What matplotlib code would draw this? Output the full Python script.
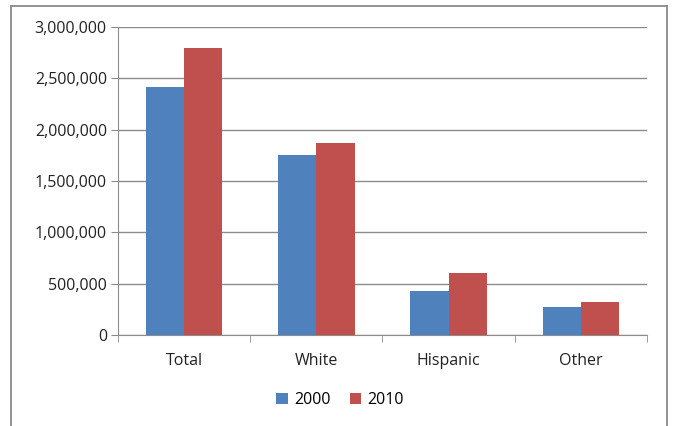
import numpy as np
import matplotlib
matplotlib.use('Agg')
import matplotlib.pyplot as plt
from matplotlib.ticker import FuncFormatter, MultipleLocator
from matplotlib.lines import Line2D

categories = ['Total', 'White', 'Hispanic', 'Other']
pop_2000 = [2415000, 1750000, 428000, 276000]
pop_2010 = [2792000, 1873000, 607000, 321000]

plt.rcParams['font.family'] = ['Open Sans', 'DejaVu Sans']

fig = plt.figure(figsize=(6.73, 4.26), dpi=100)
ax = fig.add_axes([118 / 673, 1 - 335 / 426, (647 - 118) / 673, (335 - 27) / 426])

x = np.arange(len(categories))
w = 0.29
ax.bar(x - w / 2, pop_2000, w, color='#4F81BD', label='2000', zorder=3)
ax.bar(x + w / 2, pop_2010, w, color='#C0504D', label='2010', zorder=3)

ax.set_xlim(-0.5, len(categories) - 0.5)
ax.set_ylim(0, 3000000)
ax.yaxis.set_major_locator(MultipleLocator(500000))
ax.yaxis.set_major_formatter(FuncFormatter(lambda v, p: f'{int(v):,}'))
ax.grid(axis='y', color='#8c8c8c', linewidth=1, zorder=0)

ax.set_xticks(x)
ax.set_xticklabels(categories)
ax.set_xticks(np.arange(-0.5, len(categories)), minor=True)
ax.tick_params(axis='x', which='major', length=0, pad=13, labelsize=11.5, colors='#222222')
ax.tick_params(axis='x', which='minor', length=5, color='#8c8c8c')
ax.tick_params(axis='y', length=5, color='#8c8c8c', labelsize=11.5, colors='#222222', pad=3)

for s in ['top', 'right']:
    ax.spines[s].set_visible(False)
for s in ['left', 'bottom']:
    ax.spines[s].set_color('#8c8c8c')

fig.legend(loc='center', bbox_to_anchor=(340 / 673, 1 - 400 / 426), ncol=2, frameon=False,
           fontsize=11.5, handlelength=0.7, handleheight=0.7, columnspacing=1.2, handletextpad=0.4)

# outer chart border (bottom edge is cut off in the original)
border = [([11, 11], [440, 6]), ([11, 667], [6, 6]), ([667, 667], [6, 440])]
for xs, ys in border:
    fig.add_artist(Line2D([v / 673 for v in xs], [1 - v / 426 for v in ys],
                          color='#8a8a8a', linewidth=1.3, transform=fig.transFigure))

fig.savefig('out.png', dpi=100)
